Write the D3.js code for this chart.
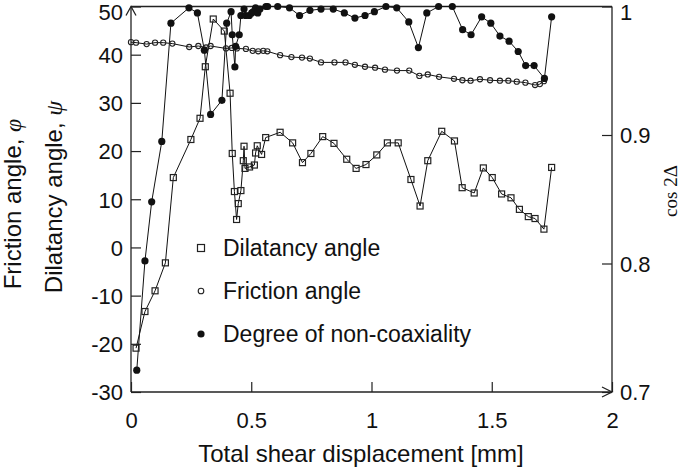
<!DOCTYPE html>
<html>
<head>
<meta charset="utf-8">
<script src="https://cdn.jsdelivr.net/npm/d3@7"></script>
<style>
  html, body { margin: 0; padding: 0; background: #fff; }
  svg { display: block; }
  text { font-family: "Liberation Sans", Arial, sans-serif; fill: #111; }
</style>
</head>
<body>
<svg id="chart" width="685" height="468"></svg>
<script>
// ---- Data ----
const dilatancyX = [0.021,0.058,0.10,0.143,0.176,0.249,0.287,0.309,0.342,0.388,0.412,0.421,0.430,0.439,0.446,0.457,0.467,0.470,0.474,0.493,0.513,0.518,0.525,0.543,0.560,0.620,0.672,0.713,0.748,0.797,0.844,0.897,0.936,0.977,1.022,1.066,1.111,1.164,1.202,1.234,1.292,1.345,1.377,1.427,1.465,1.502,1.541,1.580,1.615,1.652,1.680,1.717,1.749];
const dilatancyY = [-20.9,-13.3,-9.0,-3.2,14.5,22.4,26.8,37.5,47.4,44.9,32.0,19.5,11.6,5.8,9.1,11.8,18.0,21.0,16.4,16.7,17.1,19.6,21.1,19.3,22.8,23.9,21.7,17.6,19.5,23.0,21.6,18.3,16.4,17.2,19.2,21.7,21.7,14.1,8.6,18.0,24.1,22.1,12.4,11.3,16.5,14.5,11.1,10.3,7.9,6.4,6.0,3.8,16.6];

const frictionX = [0.0,0.021,0.065,0.10,0.134,0.172,0.242,0.28,0.312,0.331,0.395,0.419,0.44,0.478,0.506,0.529,0.55,0.567,0.62,0.667,0.711,0.744,0.79,0.846,0.892,0.931,0.973,1.015,1.056,1.106,1.157,1.199,1.234,1.281,1.343,1.378,1.412,1.451,1.493,1.534,1.569,1.604,1.64,1.68,1.70,1.717];
const frictionY = [42.6,42.5,42.2,42.5,42.5,42.3,41.6,41.8,41.5,41.8,41.3,41.4,41.3,41.2,40.8,40.7,40.8,40.7,39.9,39.5,39.4,39.2,38.4,38.4,38.4,37.9,37.5,37.3,36.9,36.7,36.7,35.6,35.9,35.4,35.0,34.7,34.6,34.9,34.7,34.6,34.6,34.4,34.2,33.7,33.9,34.5];

const coaxX = [0.024,0.058,0.086,0.128,0.166,0.241,0.276,0.305,0.331,0.378,0.398,0.416,0.421,0.432,0.435,0.450,0.457,0.470,0.477,0.492,0.502,0.509,0.518,0.527,0.536,0.561,0.568,0.61,0.659,0.701,0.744,0.79,0.841,0.887,0.931,0.973,1.012,1.06,1.105,1.155,1.195,1.23,1.279,1.336,1.379,1.414,1.458,1.496,1.534,1.572,1.61,1.641,1.676,1.719,1.749];
const coaxY = [0.717,0.802,0.848,0.895,0.987,0.999,0.995,0.966,0.916,0.927,0.987,0.996,0.978,0.953,0.969,0.978,0.993,0.998,0.993,0.993,0.995,0.996,0.999,0.995,0.998,1.0,1.0,1.0,0.999,0.993,0.997,0.998,0.998,0.995,0.991,0.993,0.996,1.0,0.999,0.988,0.968,0.995,1.0,1.0,0.982,0.978,0.992,0.987,0.977,0.973,0.965,0.954,0.954,0.944,0.992];

const xTicks = [0, 0.5, 1, 1.5, 2];
const leftTicks = [-30, -20, -10, 0, 10, 20, 30, 40, 50];
const rightTicks = [0.7, 0.8, 0.9, 1];
const legendLabels = ["Dilatancy angle", "Friction angle", "Degree of non-coaxiality"];

// ---- Layout ----
const X0 = 131, X1 = 612, YT = 6.5, YB = 392;
const svg = d3.select("#chart");
const x = d3.scaleLinear().domain([0, 2]).range([X0, X1]);
const yL = d3.scaleLinear().domain([-30, 50]).range([YB, YT]);
const yR = d3.scaleLinear().domain([0.7, 1]).range([YB, YT]);
const axisColor = "#222";
const FS = 22;

// Axes
const gLeft = svg.append("g").attr("transform", `translate(${X0},0)`)
  .call(d3.axisLeft(yL).tickValues(leftTicks).tickSizeInner(-10).tickSizeOuter(0).tickPadding(8).tickFormat(d => String(d)));
const gRight = svg.append("g").attr("transform", `translate(${X1},0)`)
  .call(d3.axisRight(yR).tickValues(rightTicks).tickSizeInner(-10).tickSizeOuter(0).tickPadding(8).tickFormat(d => d === 1 ? "1" : d3.format(".1f")(d)));
const gBottom = svg.append("g").attr("transform", `translate(0,${YB})`)
  .call(d3.axisBottom(x).tickValues(xTicks).tickSizeInner(-10).tickSizeOuter(0).tickPadding(20).tickFormat(d => String(d)));

[gLeft, gRight, gBottom].forEach(g => {
  g.select(".domain").remove();
  g.selectAll("line").attr("stroke", axisColor).attr("stroke-width", 1.2);
  g.selectAll("text").style("font-size", FS + "px").style("font-family", '"Liberation Sans", Arial, sans-serif').attr("fill", "#111");
});
gLeft.selectAll("text").attr("dy", d => d === 50 ? "0.58em" : "0.36em");
gRight.selectAll("text").attr("dy", d => d === 1 ? "0.58em" : "0.36em");

// Frame lines and arrows
const frame = svg.append("g").attr("stroke", axisColor).attr("stroke-width", 1.3).attr("fill", "none");
frame.append("line").attr("x1", X0).attr("x2", X0).attr("y1", YB).attr("y2", YT);
frame.append("line").attr("x1", X0).attr("x2", X1).attr("y1", YB).attr("y2", YB);
frame.append("line").attr("x1", X1).attr("x2", X1).attr("y1", YB).attr("y2", YT);
frame.append("line").attr("x1", X0).attr("x2", X1).attr("y1", YT).attr("y2", YT);
frame.append("path").attr("d", `M${X0-5},${YT+9} L${X0},${YT} L${X0+5},${YT+9}`);
frame.append("path").attr("d", `M${X1-10},${YB-5} L${X1},${YB} L${X1-10},${YB+5}`);

// Series lines
const lineStroke = "#111";
const lineL = d3.line().x(d => x(d[0])).y(d => yL(d[1]));
const lineR = d3.line().x(d => x(d[0])).y(d => yR(d[1]));
const dil = dilatancyX.map((v, i) => [v, dilatancyY[i]]);
const fri = frictionX.map((v, i) => [v, frictionY[i]]);
const coa = coaxX.map((v, i) => [v, coaxY[i]]);

svg.append("path").datum(fri).attr("d", lineL).attr("fill", "none").attr("stroke", lineStroke).attr("stroke-width", 1);
svg.append("path").datum(dil).attr("d", lineL).attr("fill", "none").attr("stroke", lineStroke).attr("stroke-width", 1);
svg.append("path").datum(coa).attr("d", lineR).attr("fill", "none").attr("stroke", lineStroke).attr("stroke-width", 1);

// Markers
const SQ = 6;
svg.append("g").selectAll("circle").data(fri).join("circle")
  .attr("cx", d => x(d[0])).attr("cy", d => yL(d[1])).attr("r", 2.6)
  .attr("fill", "none").attr("stroke", "#222").attr("stroke-width", 1.1);
svg.append("g").selectAll("rect").data(dil).join("rect")
  .attr("x", d => x(d[0]) - SQ/2).attr("y", d => yL(d[1]) - SQ/2).attr("width", SQ).attr("height", SQ)
  .attr("fill", "none").attr("stroke", "#222").attr("stroke-width", 1.2);
svg.append("g").selectAll("circle").data(coa).join("circle")
  .attr("cx", d => x(d[0])).attr("cy", d => yR(d[1])).attr("r", 3.6)
  .attr("fill", "#111").attr("stroke", "none");

// Legend
const legRows = [248, 291, 334];
const leg = svg.append("g");
leg.append("rect").attr("x", 201 - 3.5).attr("y", legRows[0] - 3.5).attr("width", 7).attr("height", 7)
  .attr("fill", "none").attr("stroke", "#222").attr("stroke-width", 1.2);
leg.append("circle").attr("cx", 201).attr("cy", legRows[1]).attr("r", 2.8)
  .attr("fill", "none").attr("stroke", "#222").attr("stroke-width", 1.1);
leg.append("circle").attr("cx", 201).attr("cy", legRows[2]).attr("r", 3.6).attr("fill", "#111");
legendLabels.forEach((t, i) => {
  leg.append("text").attr("x", 223).attr("y", legRows[i]).attr("dy", "0.36em")
    .style("font-size", "23px").text(t);
});

// Axis titles
svg.append("text").attr("x", 361).attr("y", 462).attr("text-anchor", "middle")
  .style("font-size", "24px").text("Total shear displacement [mm]");

const t1 = svg.append("text").attr("transform", "translate(21,204) rotate(-90)").attr("text-anchor", "middle")
  .style("font-size", "24px");
t1.append("tspan").text("Friction angle, ");
t1.append("tspan").style("font-family", '"Liberation Serif", "DejaVu Serif", serif').style("font-style", "italic").text("φ");

const t2 = svg.append("text").attr("transform", "translate(62,197) rotate(-90)").attr("text-anchor", "middle")
  .style("font-size", "24px");
t2.append("tspan").text("Dilatancy angle, ");
t2.append("tspan").style("font-family", '"Liberation Serif", "DejaVu Serif", serif').style("font-style", "italic").text("ψ");

svg.append("text").attr("transform", "translate(677,191) rotate(-90)").attr("text-anchor", "middle")
  .style("font-family", '"Liberation Serif", "DejaVu Serif", serif').style("font-size", "19px")
  .text("cos 2Δ");
</script>
</body>
</html>
